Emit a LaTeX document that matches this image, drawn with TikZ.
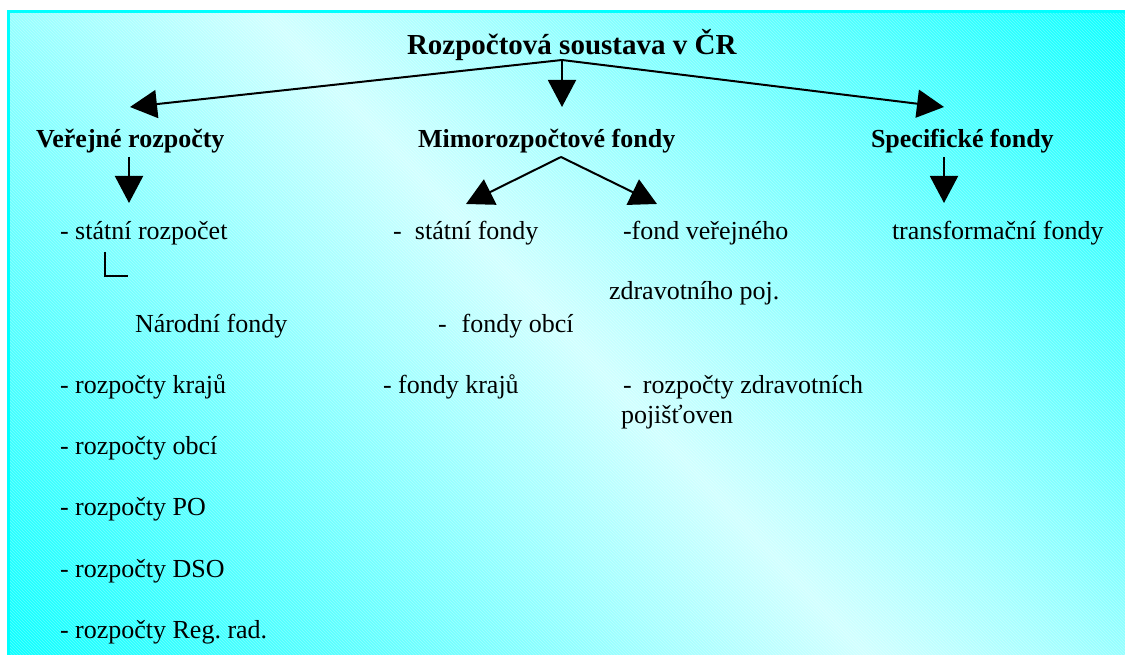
\documentclass[tikz,border=0pt]{standalone}
\usepackage{fontspec}
\setmainfont{Liberation Serif}
\frenchspacing
\usetikzlibrary{arrows.meta,patterns}
\definecolor{bgcyan}{RGB}{0,255,255}
\definecolor{bglight}{RGB}{208,255,255}
\pgfdeclareverticalshading{bgshade}{100bp}{color(0bp)=(bgcyan); color(22bp)=(bgcyan); color(50bp)=(bglight); color(78bp)=(bgcyan); color(100bp)=(bgcyan)}
\tikzset{
  lbl/.style={anchor=base west, inner sep=0pt, outer sep=0pt, font=\fontsize{26}{30}\selectfont},
  headlbl/.style={anchor=base west, inner sep=0pt, outer sep=0pt, font=\fontsize{26}{30}\selectfont\bfseries},
  titlelbl/.style={anchor=base west, inner sep=0pt, outer sep=0pt, font=\fontsize{29}{33}\selectfont\bfseries},
  arr/.style={line width=2pt, -{Triangle[length=27pt,width=28pt]}},
  plain/.style={line width=2pt},
}
\begin{document}
\begin{tikzpicture}[x=1pt,y=-1pt]
\useasboundingbox (0,0) rectangle (1125,655);
\fill[white] (0,0) rectangle (1125,655);
\begin{scope}
  \clip (8.5,11.5) rectangle (1125,655);
  \shade[shading=bgshade, shading angle=-47] (-40,-273) rectangle (1160,927);
  \fill[pattern=north west lines, pattern color=white, opacity=0.3] (0,0) rectangle (1125,655);
\end{scope}
\draw[bgcyan, line width=3pt] (8.5,700) -- (8.5,11.5) -- (1200,11.5);

% title and headings
\node[titlelbl] (title) at (407,55) {Rozpočtová soustava v ČR};
\node[headlbl] (vr) at (36,148) {Veřejné rozpočty};
\node[headlbl] (mf) at (418,148) {Mimorozpočtové fondy};
\node[headlbl] (sf) at (871,148) {Specifické fondy};

% left column
\node[lbl] (sr) at (60,240) {- státní rozpočet};
\node[lbl] (nf) at (135,332) {Národní fondy};
\node[lbl] (rk) at (60,393) {- rozpočty krajů};
\node[lbl] (ro) at (60,454) {- rozpočty obcí};
\node[lbl] (rpo) at (60,515) {- rozpočty PO};
\node[lbl] (rdso) at (60,577) {- rozpočty DSO};
\node[lbl] (rrr) at (60,638) {- rozpočty Reg. rad.};

% middle column
\node[lbl] (stf) at (393,240) {-\hspace{13.3pt}státní fondy};
\node[lbl] (fvz) at (623,240) {-fond veřejného};
\node[lbl] (zp) at (609,300) {zdravotního poj.};
\node[lbl] (fo) at (438,332) {-\hspace{15pt}fondy obcí};
\node[lbl] (fk) at (383,393) {- fondy krajů};
\node[lbl] (rzp) at (623,393) {-\hspace{11.3pt}rozpočty zdravotních};
\node[lbl] (poj) at (621,423) {pojišťoven};

% right column
\node[lbl] (tf) at (892,240) {transformační fondy};

% connector points
\coordinate (hub) at (562,60);
\coordinate (tipL) at (130,107);
\coordinate (tipM) at (562,107);
\coordinate (tipR) at (944,107);
\coordinate (vrS) at (129,157);
\coordinate (vrT) at (129,203);
\coordinate (mfS) at (561,157);
\coordinate (mfL) at (466,204);
\coordinate (mfR) at (657,204);
\coordinate (sfS) at (944,157);
\coordinate (sfT) at (944,203);
\coordinate (cA) at (105,252);
\coordinate (cB) at (105,276);
\coordinate (cC) at (128,276);

\draw[arr] (hub) -- (tipL);
\draw[arr] (hub) -- (tipM);
\draw[arr] (hub) -- (tipR);
\draw[arr] (vrS) -- (vrT);
\draw[arr] (mfS) -- (mfL);
\draw[arr] (mfS) -- (mfR);
\draw[arr] (sfS) -- (sfT);
\draw[plain] (cA) -- (cB) -- (cC);
\end{tikzpicture}
\end{document}
